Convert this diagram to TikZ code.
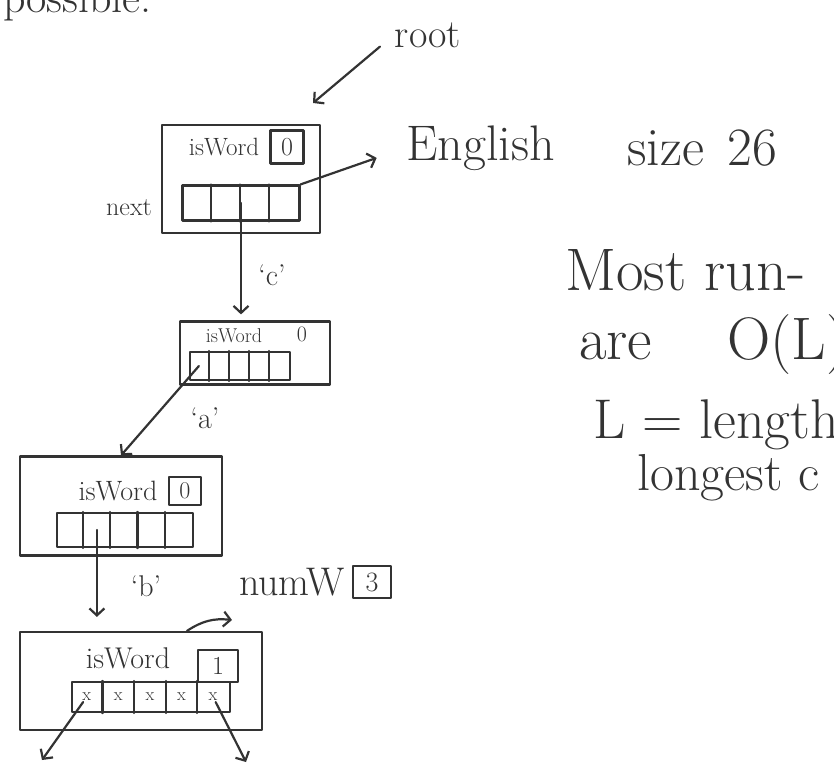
\documentclass[tikz,border=0pt]{standalone}
\usetikzlibrary{calc,positioning,arrows.meta}
\tikzstyle{pen}=[line width=2.2pt,draw=black!80,line cap=round,line join=round]
\tikzstyle{trienode}=[pen,rectangle,inner sep=0pt]
\tikzstyle{flagbox}=[pen,rectangle,inner sep=0pt,text=black!80]
\tikzstyle{link}=[pen,-{Straight Barb[length=7pt,width=15pt]}]
\tikzstyle{hand}=[text=black!80,inner sep=1pt]
\newcommand{\fs}[1]{\fontsize{#1}{#1}\selectfont}
\newcommand{\drawslots}[6]{

\pgfmathsetmacro{\cellw}{#4/#6}
\pgfmathtruncatemacro{\last}{#6-1}
\node[trienode,minimum width=#4pt,minimum height=#5pt] (#1) at (#2,#3) {};
    \foreach \i in {1,...,\last} {
      \draw[pen] ($(#1.north west)+(\i*\cellw,0)$) -- ($(#1.south west)+(\i*\cellw,0)$);
    }

}

\begin{document}
\begin{tikzpicture}[x=1pt,y=-1pt]
	\useasboundingbox (0,0) rectangle (834,772);
	\clip (0,0) rectangle (834,772);
	\node[hand,anchor=base east,font=\fs{44}] (prev) at (153,12) {possible.};
	% root node
	\node[trienode,minimum width=158pt,minimum height=108pt] (n1) at (241,179) {};
	\node[hand,font=\fs{25}] (word1) at (224,147) {isWord};
	\node[flagbox,minimum width=33pt,minimum height=33pt,font=\fs{26}] (flag1) at (287,147) {0};
	\drawslots{arr1}{241}{203}{117}{35}{4}
	\node[hand,font=\fs{26}] (next) at (129,208) {next};
	\node[hand,font=\fs{40}] (root) at (428,35) {root};
	\coordinate (rootend) at (313,103);
	\node[hand,anchor=west,font=\fs{50}] (english) at (405,148) {English};
	\node[hand,anchor=west,font=\fs{54}] (size) at (626,148) {size\hspace{24pt}26};
	% second node
	\node[trienode,minimum width=150pt,minimum height=63pt] (n2) at (255,353) {};
	\node[hand,font=\fs{20}] (word2) at (234,336) {isWord};
	\node[hand,font=\fs{22}] (flag2) at (302,334) {0};
	\drawslots{arr2}{240}{366}{100}{28}{5}
	% third node
	\node[trienode,minimum width=202pt,minimum height=99pt] (n3) at (121,506) {};
	\node[hand,font=\fs{28}] (word3) at (118,491) {isWord};
	\node[flagbox,minimum width=32pt,minimum height=28pt,font=\fs{24}] (flag3) at (185,491) {0};
	\drawslots{arr3}{125}{530}{136}{34}{5}
	\coordinate (tail3) at ($(arr3.west)+(41,0)$);
	% last node
	\node[trienode,minimum width=242pt,minimum height=98pt] (n4) at (141,681) {};
	\node[hand,font=\fs{30}] (word4) at (128,658) {isWord};
	\node[flagbox,minimum width=40pt,minimum height=32pt,font=\fs{26}] (flag4) at (218,666) {1};
	\drawslots{arr4}{151}{697}{158}{30}{5}
	\foreach \i in {1,...,5} {
	  \node[hand,font=\fs{18}] (x\i) at ($(arr4.west)+(\i*\cellw-\cellw/2,0)$) {x};
	}
	\node[hand,font=\fs{40}] (numw) at (292,582) {numW};
	\node[flagbox,minimum width=38pt,minimum height=32pt,font=\fs{28}] (flagn) at (372,582) {3};
	\coordinate (numtip) at (232,620);
	\coordinate (leftkid) at (42,760);
	\coordinate (rightkid) at (246,762);
	% edge labels
	\node[hand,font=\fs{30}] (lc) at (272,275) {`c'};
	\node[hand,font=\fs{30}] (la) at (205,418) {`a'};
	\node[hand,font=\fs{30}] (lb) at (146,586) {`b'};
	% note on the right
	\node[hand,anchor=west,font=\fs{60}] (most) at (564,270) {Most run-};
	\node[hand,anchor=west,font=\fs{60}] (are) at (578,345) {are\hspace{75pt}O(L)};
	\node[hand,anchor=west,font=\fs{56}] (len) at (592,425) {L = length};
	\node[hand,anchor=west,font=\fs{52}] (longest) at (636,478) {longest c};
	% links
	\draw[link,shorten <=18pt] (root.west) -- (rootend);
	\draw[link,shorten >=30pt] (arr1.north east) -- (english.west);
	\draw[link,shorten >=6pt] (arr1.center) -- (arr1.center |- n2.north);
	\draw[link] ($(arr2.west)+(10,0)$) -- (n3.north);
	\draw[link,shorten >=14pt] (tail3) -- (tail3 |- n4.north);
	\draw[link] ([xshift=46pt]n4.north) to[bend left=20] (numtip);
	\draw[link] (x1) -- (leftkid);
	\draw[link] (x5) -- (rightkid);
\end{tikzpicture}
\end{document}
